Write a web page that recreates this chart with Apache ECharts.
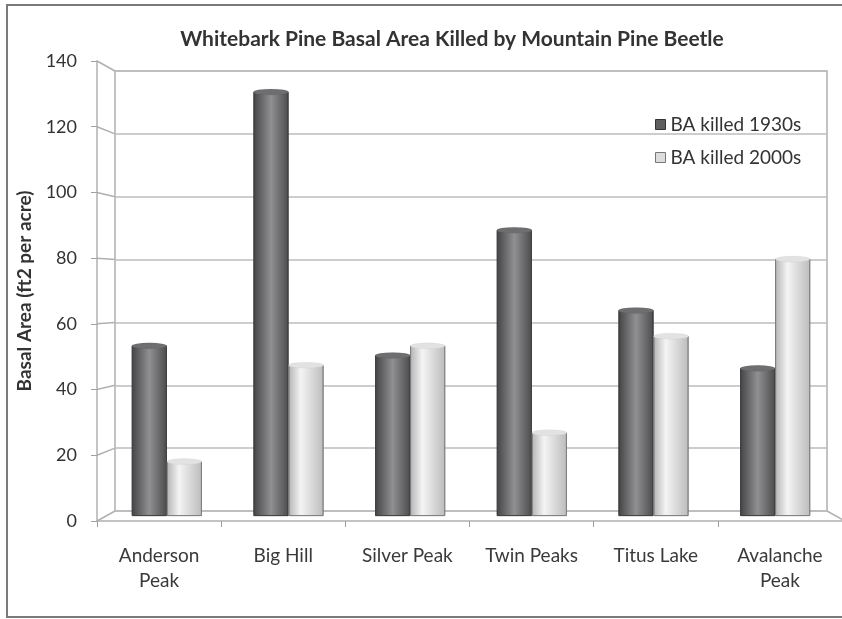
<!DOCTYPE html>
<html>
<head>
<meta charset="utf-8">
<script src="https://cdn.jsdelivr.net/npm/echarts@6/dist/echarts.min.js"></script>
<style>
  html, body { margin: 0; padding: 0; background: #fff; }
  #chart { width: 842px; height: 619px; }
</style>
</head>
<body>
<div id="chart"></div>
<script>
var categories = ['Anderson\nPeak', 'Big Hill', 'Silver Peak', 'Twin Peaks', 'Titus Lake', 'Avalanche\nPeak'];
var killed1930s = [53, 132, 50, 89, 64, 46];
var killed2000s = [17, 47, 53, 26, 56, 80];
var yTicks = [0, 20, 40, 60, 80, 100, 120, 140];

var font = 'Lato, "Open Sans", sans-serif';

var darkFill = new echarts.graphic.LinearGradient(0, 0, 1, 0, [
  { offset: 0, color: '#444446' },
  { offset: 0.5, color: '#909092' },
  { offset: 1, color: '#4c4c4e' }
]);
var lightFill = new echarts.graphic.LinearGradient(0, 0, 1, 0, [
  { offset: 0, color: '#b4b4b4' },
  { offset: 0.35, color: '#f4f4f4' },
  { offset: 1, color: '#bcbcbc' }
]);

var myChart = echarts.init(document.getElementById('chart'));
myChart.setOption({
  animation: false,
  title: {
    text: 'Whitebark Pine Basal Area Killed by Mountain Pine Beetle',
    left: 447,
    top: 24,
    textAlign: 'center',
    textStyle: { fontFamily: font, fontSize: 21, fontWeight: 'bold', color: '#333' }
  },
  legend: {
    orient: 'vertical',
    left: 650,
    top: 110,
    itemWidth: 10,
    itemHeight: 10,
    itemGap: 14,
    icon: 'rect',
    textStyle: { fontFamily: font, fontSize: 19, color: '#333' },
    data: [
      { name: 'BA killed 1930s', itemStyle: { color: '#5f5f60', borderColor: '#333', borderWidth: 1 } },
      { name: 'BA killed 2000s', itemStyle: { color: '#dcdcdc', borderColor: '#777', borderWidth: 1 } }
    ]
  },
  grid: [
    // back wall
    { left: 115, top: 71, width: 712, height: 440, show: true, borderColor: '#b0b0b0', borderWidth: 1.5 },
    // bars at mid depth
    { left: 106, top: 66, width: 730, height: 450 },
    // front plane (axes, labels)
    { left: 97, top: 61, width: 748, height: 460 }
  ],
  xAxis: [
    { type: 'category', gridIndex: 0, data: categories, show: false },
    { type: 'category', gridIndex: 1, data: categories, show: false },
    {
      type: 'category', gridIndex: 2, data: categories,
      axisLine: { lineStyle: { color: '#b0b0b0', width: 1.5 } },
      axisTick: { show: true, length: 6, lineStyle: { color: '#a0a0a0' } },
      axisLabel: { fontFamily: font, fontSize: 19, color: '#3a3a3a', margin: 22, lineHeight: 25 }
    }
  ],
  yAxis: [
    {
      type: 'value', gridIndex: 0, min: 0, max: 140, interval: 20,
      axisLine: { show: false }, axisTick: { show: false }, axisLabel: { show: false },
      splitLine: { lineStyle: { color: '#bdbdbd', width: 1.5 } }
    },
    { type: 'value', gridIndex: 1, min: 0, max: 140, interval: 20, show: false, splitLine: { show: false } },
    {
      type: 'value', gridIndex: 2, min: 0, max: 140, interval: 20,
      name: 'Basal Area (ft2 per acre)',
      nameLocation: 'middle',
      nameGap: 54,
      nameTextStyle: { fontFamily: font, fontSize: 19, fontWeight: 'bold', color: '#333' },
      axisLine: { show: true, lineStyle: { color: '#b0b0b0', width: 1.5 } },
      axisTick: { show: true, length: 6, lineStyle: { color: '#a0a0a0' } },
      axisLabel: { fontFamily: font, fontSize: 18, color: '#333', margin: 20 },
      splitLine: { show: false }
    }
  ],
  series: [
    {
      name: 'BA killed 1930s', type: 'bar', xAxisIndex: 1, yAxisIndex: 1,
      barWidth: 35, barGap: '0%', z: 3,
      itemStyle: { color: darkFill, borderColor: '#3a3a3a', borderWidth: 0.8 },
      data: killed1930s
    },
    {
      name: 'BA killed 2000s', type: 'bar', xAxisIndex: 1, yAxisIndex: 1,
      barWidth: 35, barGap: '0%', z: 3,
      itemStyle: { color: lightFill, borderColor: '#7a7a7a', borderWidth: 0.8 },
      data: killed2000s
    },
    {
      name: 'cap1930s', type: 'pictorialBar', xAxisIndex: 1, yAxisIndex: 1,
      barWidth: 35, barGap: '0%', z: 4,
      symbol: 'circle', symbolSize: [35, 6], symbolPosition: 'end', symbolOffset: [0, '-50%'],
      itemStyle: { color: '#6e6e70', borderColor: '#2e2e2e', borderWidth: 1 },
      data: killed1930s
    },
    {
      name: 'cap2000s', type: 'pictorialBar', xAxisIndex: 1, yAxisIndex: 1,
      barWidth: 35, barGap: '0%', z: 4,
      symbol: 'circle', symbolSize: [35, 6], symbolPosition: 'end', symbolOffset: [0, '-50%'],
      itemStyle: { color: '#e2e2e2', borderColor: '#555', borderWidth: 1 },
      data: killed2000s
    }
  ]
});

// perspective edges of the side wall and floor, taken from the front and back axes
var edges = [];
yTicks.forEach(function (v) {
  var yBack = myChart.convertToPixel({ yAxisIndex: 0 }, v);
  var yFront = myChart.convertToPixel({ yAxisIndex: 2 }, v);
  edges.push({
    type: 'line', silent: true, z: 1,
    shape: { x1: 97, y1: yFront, x2: 115, y2: yBack },
    style: { stroke: '#b0b0b0', lineWidth: 1.5 }
  });
});
var floorBack = myChart.convertToPixel({ yAxisIndex: 0 }, 0);
var floorFront = myChart.convertToPixel({ yAxisIndex: 2 }, 0);
edges.push({
  type: 'line', silent: true, z: 1,
  shape: { x1: 827, y1: floorBack, x2: 845, y2: floorFront },
  style: { stroke: '#b0b0b0', lineWidth: 1.5 }
});
edges.push({
  type: 'rect', silent: true, z: 0,
  shape: { x: 7, y: 5, width: 850, height: 612 },
  style: { fill: 'none', stroke: '#7a7a7a', lineWidth: 2 }
});
myChart.setOption({ graphic: edges });
</script>
</body>
</html>
